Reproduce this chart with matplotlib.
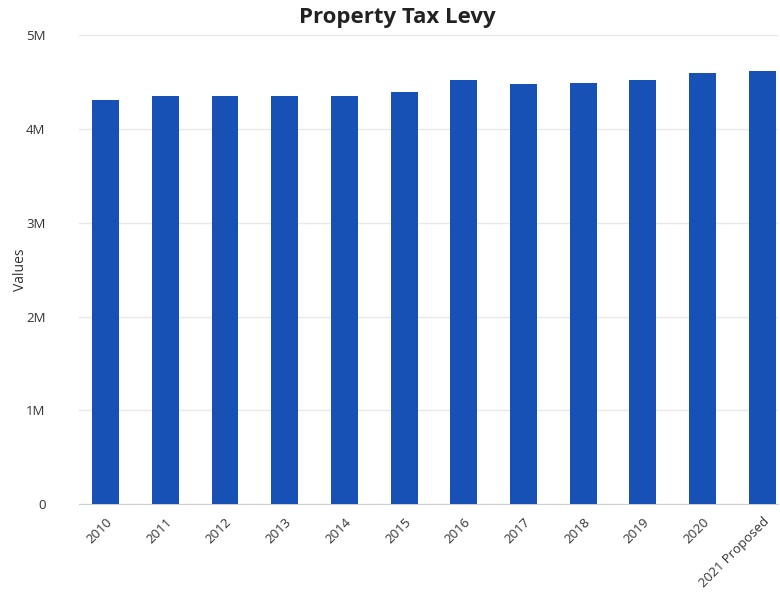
import matplotlib
matplotlib.use("Agg")
import matplotlib.pyplot as plt

categories = ["2010", "2011", "2012", "2013", "2014", "2015", "2016", "2017",
              "2018", "2019", "2020", "2021 Proposed"]
values = [4.31e6, 4.35e6, 4.35e6, 4.35e6, 4.35e6, 4.39e6, 4.52e6, 4.48e6,
          4.49e6, 4.52e6, 4.60e6, 4.615e6]
yticks = [0, 1e6, 2e6, 3e6, 4e6, 5e6]
ytick_labels = ["0", "1M", "2M", "3M", "4M", "5M"]

plt.rcParams['font.family'] = ['Open Sans', 'DejaVu Sans']

fig = plt.figure(figsize=(7.8, 5.96), dpi=100)
ax = fig.add_axes([0.101, 0.154, 0.897, 0.787])

x = list(range(len(categories)))
ax.bar(x, values, width=0.45, color="#1851b5", zorder=3)

ax.set_ylim(0, 5e6)
ax.set_xlim(-0.45, 11.27)
ax.set_yticks(yticks)
ax.set_yticklabels(ytick_labels)
ax.set_xticks(x)
ax.set_xticklabels(categories, rotation=45, ha="right", va="top",
                   rotation_mode="anchor")
ax.tick_params(axis="both", length=0, labelsize=9.5, colors="#333333")
ax.tick_params(axis="y", pad=24)
ax.tick_params(axis="x", pad=8)
ax.grid(axis="y", color="#e8e8e8", linewidth=1, zorder=0)
for s in ["top", "right", "left"]:
    ax.spines[s].set_visible(False)
ax.spines["bottom"].set_color("#d0d0d0")
ax.set_ylabel("Values", fontsize=10, color="#333333")
ax.yaxis.set_label_coords(-0.072, 0.5)
fig.text(397 / 780, 1 - 17 / 596, "Property Tax Levy", fontsize=16,
         fontweight="bold", color="#222222", ha="center", va="center")

fig.savefig("out.png", dpi=100)
